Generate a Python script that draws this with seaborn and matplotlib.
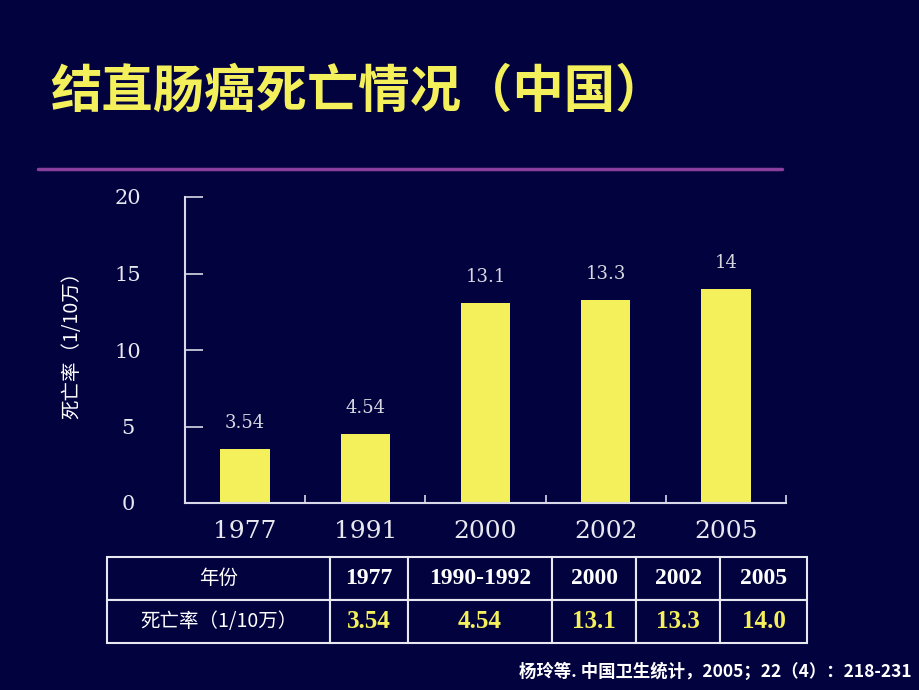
import matplotlib
matplotlib.use("Agg")
import matplotlib.pyplot as plt
import seaborn as sns
import pandas as pd
from matplotlib.lines import Line2D

# ---- data ----
categories = ["1977", "1991", "2000", "2002", "2005"]
rates = [3.54, 4.54, 13.1, 13.3, 14.0]
bar_labels = ["3.54", "4.54", "13.1", "13.3", "14"]
y_ticks = [0, 5, 10, 15, 20]
table_header = ["年份", "1977", "1990-1992", "2000", "2002", "2005"]
table_values = ["死亡率（1/10万）", "3.54", "4.54", "13.1", "13.3", "14.0"]
title = "结直肠癌死亡情况（中国）"
ylabel = "死亡率（1/10万）"
citation = "杨玲等. 中国卫生统计，2005；22（4）：218-231"

BG = "#02023f"
YELLOW = "#f4f05c"
AXIS = "#d8d8e8"
CJK = ["Noto Sans CJK SC", "DejaVu Sans"]
SERIF = ["DejaVu Serif"]
TSERIF = ["Liberation Serif", "DejaVu Serif"]

sns.set_theme(style="white")
plt.rcParams["font.family"] = CJK

fig = plt.figure(figsize=(9.2, 6.9), dpi=100, facecolor=BG)

# ---- chart ----
ax = fig.add_axes([185 / 920, 1 - 503 / 690, (786 - 185) / 920, (503 - 197) / 690])
ax.set_facecolor(BG)
df = pd.DataFrame({"year": categories, "rate": rates})
sns.barplot(data=df, x="year", y="rate", color=YELLOW, saturation=1,
            width=0.41, ax=ax, edgecolor="none")
ax.set_xlim(-0.5, len(categories) - 0.5)
ax.set_ylim(0, 20)
ax.set_yticks(y_ticks)
ax.set_yticklabels([str(v) for v in y_ticks], family=SERIF, fontsize=15, color="#e8e8f0")
ax.set_xticks(range(len(categories)))
ax.set_xticklabels(categories, family=SERIF, fontsize=18, color="#e8e8f0")
ax.tick_params(axis="x", which="major", length=0, pad=12)
ax.set_xticks([i + 0.5 for i in range(len(categories))], minor=True)
ax.tick_params(axis="x", which="minor", direction="in", length=6, width=1.2, color=AXIS, bottom=True)
ax.tick_params(axis="y", direction="in", length=13, width=1.2, color=AXIS, left=True, pad=41)
for lab in ax.get_yticklabels():
    lab.set_horizontalalignment("center")
for s in ["top", "right"]:
    ax.spines[s].set_visible(False)
for s in ["left", "bottom"]:
    ax.spines[s].set_color(AXIS)
    ax.spines[s].set_linewidth(1.5)
ax.set_xlabel("")
ax.set_ylabel(ylabel, color="white", fontsize=14, family=CJK)
ax.yaxis.set_label_coords((82 - 185) / 601, (503 - 340) / 306)
ax.bar_label(ax.containers[0], labels=bar_labels, padding=12, color="#d8d8e0",
             fontsize=13, family=SERIF)

# ---- title & rule ----
fig.text(50 / 920, 1 - 91 / 690, title, color=YELLOW, fontsize=37, fontweight="bold",
         family=CJK, ha="left", va="center")
fig.add_artist(Line2D([38 / 920, 782 / 920], [1 - 169 / 690] * 2, color="#8a3f9c", lw=2.5))

# ---- table ----
tax = fig.add_axes([107 / 920, 1 - 643 / 690, 700 / 920, 86 / 690])
tax.axis("off")
widths = [223, 78, 144, 84, 84, 87]
tot = sum(widths)
tbl = tax.table(cellText=[table_header, table_values], colWidths=[w / tot for w in widths],
                cellLoc="center", loc="center", bbox=[0, 0, 1, 1])
tbl.auto_set_font_size(False)
for (r, c), cell in tbl.get_celld().items():
    cell.set_facecolor(BG)
    cell.set_edgecolor("#e8e8f0")
    cell.set_linewidth(1.5)
    t = cell.get_text()
    if c == 0:
        t.set_family(CJK)
        t.set_fontsize(14)
        t.set_color("white")
    elif r == 0:
        t.set_family(TSERIF)
        t.set_fontsize(17)
        t.set_fontweight("bold")
        t.set_color("white")
    else:
        t.set_family(TSERIF)
        t.set_fontsize(18)
        t.set_fontweight("bold")
        t.set_color(YELLOW)

# ---- citation ----
fig.text(912 / 920, 1 - 672 / 690, citation, color="white", fontsize=12.5, fontweight="bold",
         family=CJK, ha="right", va="center")

fig.savefig("out.png", dpi=100, facecolor=BG)
